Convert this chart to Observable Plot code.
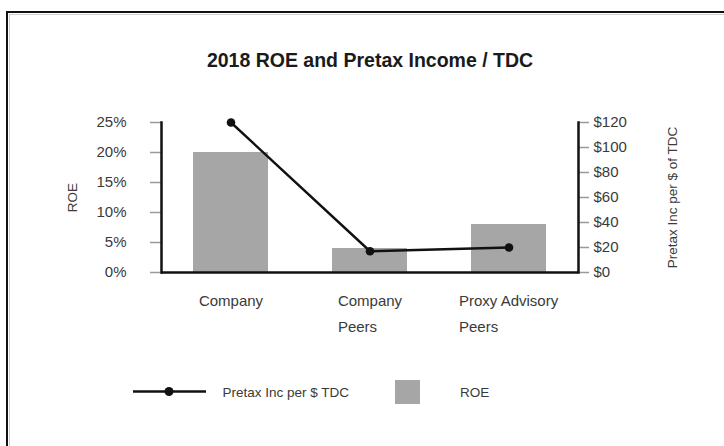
<!DOCTYPE html>
<html><head><meta charset="utf-8">
<script src="https://cdn.jsdelivr.net/npm/d3@7"></script>
<script src="https://cdn.jsdelivr.net/npm/@observablehq/plot@0.6"></script>
<style>
body{margin:0;background:#fff;}
#wrap{position:relative;width:724px;height:446px;overflow:hidden;font-family:"Liberation Sans",Arial,sans-serif;}
#wrap svg{position:absolute;left:0;top:0;}
</style></head><body><div id="wrap"></div>
<script>
const categories = ["Company", "Company Peers", "Proxy Advisory Peers"];
const categoryLabels = ["Company", "Company\nPeers", "Proxy Advisory\nPeers"];
const roe = [0.20, 0.04, 0.08];
const pretax = [120, 17, 20];
const roeTicks = [0, 0.05, 0.10, 0.15, 0.20, 0.25];
const pretaxTicks = [0, 20, 40, 60, 80, 100, 120];
const title = "2018 ROE and Pretax Income / TDC";
const legendLine = "Pretax Inc per $ TDC";
const legendBar = "ROE";
const leftLabel = "ROE";
const rightLabel = "Pretax Inc per $ of TDC";

const font = '"Liberation Sans", Arial, sans-serif';
const barColor = "#a6a6a6";
const textColor = "#3a3a3a";
const k = 0.25 / 120; // map $ onto ROE scale for the secondary axis

const data = categories.map((c, i) => ({category: c, label: categoryLabels[i], roe: roe[i], pretax: pretax[i]}));

const ctx = document.createElement("canvas").getContext("2d");
ctx.font = `15px ${font}`;
const half = l => d3.max(l.split("\n"), s => ctx.measureText(s).width) / 2;

const chart = Plot.plot({
  width: 724, height: 446,
  marginTop: 122, marginBottom: 174, marginLeft: 161, marginRight: 146,
  style: {fontFamily: font, fontSize: "15px", color: textColor, background: "transparent"},
  x: {domain: categories, paddingInner: 0.46, paddingOuter: 0.23, axis: null},
  y: {domain: [0, 0.25], axis: null},
  marks: [
    Plot.barY(data, {x: "category", y: "roe", fill: barColor}),
    Plot.axisY({ticks: roeTicks, tickFormat: d => Math.round(d * 100) + "%", tickSize: 11, tickPadding: 24,
      stroke: "#9a9a9a", strokeWidth: 1.5, fill: textColor, label: null}),
    Plot.axisY({anchor: "right", ticks: pretaxTicks.map(v => v * k), tickFormat: d => "$" + Math.round(d / k),
      tickSize: 10, tickPadding: 5, stroke: "#9a9a9a", strokeWidth: 1.5, fill: textColor, label: null}),
    Plot.ruleY([0], {stroke: "#111", strokeWidth: 2.5}),
    Plot.frame({anchor: "left", stroke: "#111", strokeWidth: 2.5}),
    Plot.frame({anchor: "right", stroke: "#111", strokeWidth: 2.5}),
    Plot.line(data, {x: "category", y: d => d.pretax * k, stroke: "#111", strokeWidth: 2.4}),
    Plot.dot(data, {x: "category", y: d => d.pretax * k, r: 4.3, fill: "#111"}),
    ...data.map(d => Plot.text([d], {x: "category", text: "label", frameAnchor: "bottom", textAnchor: "start",
      lineAnchor: "top", dy: 15.5, dx: -half(d.label), lineHeight: 1.73, fill: textColor, fontSize: 15})),
    Plot.text([leftLabel], {text: d => d, frameAnchor: "left", textAnchor: "middle", rotate: -90, dx: -88.5, fontSize: 13.5, fill: textColor}),
    Plot.text([rightLabel], {text: d => d, frameAnchor: "right", textAnchor: "middle", rotate: -90, dx: 94, fontSize: 13.5, fill: textColor})
  ]
});

const wrap = document.getElementById("wrap");
const ns = "http://www.w3.org/2000/svg";
const deco = document.createElementNS(ns, "svg");
deco.setAttribute("width", 724); deco.setAttribute("height", 446);
deco.innerHTML = `
  <rect x="7" y="12" width="800" height="500" fill="none" stroke="#111" stroke-width="2"/>
  <rect x="9.5" y="14.5" width="800" height="500" fill="none" stroke="#cfcfcf" stroke-width="1"/>
  <text id="t" x="370" y="66.5" text-anchor="middle" font-size="19.5" font-weight="bold" fill="#1a1a1a" font-family='${font}'></text>
  <line x1="133" x2="206" y1="391.5" y2="391.5" stroke="#111" stroke-width="2.5"/>
  <circle cx="169" cy="391.5" r="4.5" fill="#111"/>
  <text id="l1" x="222.5" y="396.5" font-size="13.5" fill="${textColor}" font-family='${font}'></text>
  <rect x="395" y="380" width="25" height="24" fill="${barColor}"/>
  <text id="l2" x="460" y="396.5" font-size="13.5" fill="${textColor}" font-family='${font}'></text>`;
deco.querySelector("#t").textContent = title;
deco.querySelector("#l1").textContent = legendLine;
deco.querySelector("#l2").textContent = legendBar;
wrap.appendChild(deco);
wrap.appendChild(chart);
</script></body></html>
